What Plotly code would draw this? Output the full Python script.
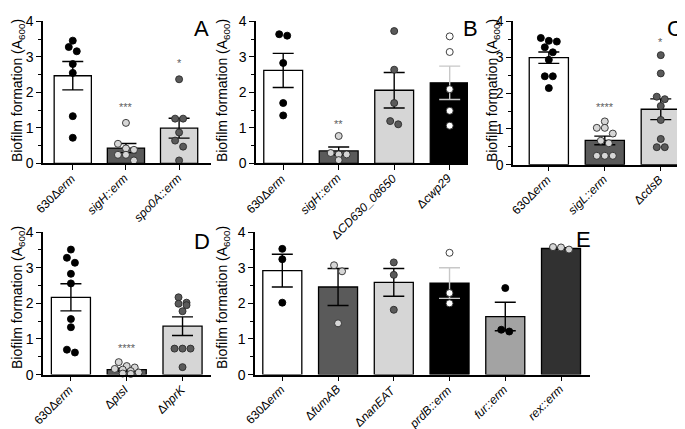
import plotly.graph_objects as go

W, H = 685, 429
FONT = "Liberation Sans, Arial, sans-serif"

# ---------------- data ----------------
A_labels = ["630Δ<i>erm</i>", "<i>sigH::erm</i>", "<i>spo0A::erm</i>"]
A_means = [2.47, 0.43, 0.99]
A_sem = [0.40, 0.13, 0.28]
A_points = [
    [3.46, 3.28, 3.16, 2.80, 2.55, 1.33, 0.72],
    [1.14, 0.55, 0.42, 0.38, 0.24, 0.24, 0.08],
    [2.37, 1.26, 1.26, 0.87, 0.64, 0.47, 0.08],
]
A_stars = ["", "***", "*"]
A_star_y = [None, 1.60, 2.82]

B_labels = ["630Δ<i>erm</i>", "<i>sigH::erm</i>", "Δ<i>CD630_08650</i>", "Δ<i>cwp29</i>"]
B_means = [2.62, 0.35, 2.06, 2.27]
B_sem = [0.48, 0.11, 0.50, 0.47]
B_points = [
    [3.64, 3.60, 2.83, 1.70, 1.35],
    [0.77, 0.29, 0.25, 0.25, 0.09],
    [3.73, 2.64, 1.70, 1.19, 1.10],
    [3.58, 3.14, 2.09, 1.48, 1.06],
]
B_stars = ["", "**", "", ""]
B_star_y = [None, 1.11, None, None]

C_labels = ["630Δ<i>erm</i>", "<i>sigL::erm</i>", "Δ<i>cdsB</i>"]
C_means = [2.99, 0.68, 1.55]
C_sem = [0.16, 0.12, 0.29]
C_points = [
    [3.54, 3.46, 3.44, 3.28, 3.14, 2.93, 2.47, 2.47, 2.14],
    [1.21, 1.03, 1.03, 0.87, 0.67, 0.60, 0.25, 0.25, 0.25],
    [3.06, 2.55, 1.90, 1.83, 1.64, 1.25, 0.72, 0.49, 0.49],
]
C_stars = ["", "****", "*"]
C_star_y = [None, 1.61, 3.42]

D_labels = ["630Δ<i>erm</i>", "Δ<i>ptsI</i>", "Δ<i>hprK</i>"]
D_means = [2.17, 0.14, 1.36]
D_sem = [0.38, 0.04, 0.26]
D_points = [
    [3.51, 3.28, 3.14, 2.83, 2.56, 1.56, 1.33, 0.70, 0.62],
    [0.35, 0.24, 0.20, 0.16, 0.14, 0.10, 0.06, 0.03, 0.02],
    [2.17, 2.02, 1.99, 1.95, 1.78, 0.73, 0.73, 0.73, 0.21],
]
D_stars = ["", "****", ""]
D_star_y = [None, 0.76, None]

E_labels = ["630Δ<i>erm</i>", "Δ<i>fumAB</i>", "Δ<i>nanEAT</i>", "<i>prdB::erm</i>",
            "<i>fur::erm</i>", "<i>rex::erm</i>"]
E_means = [2.92, 2.46, 2.59, 2.57, 1.63, 3.54]
E_sem = [0.46, 0.52, 0.39, 0.43, 0.40, 0.02]
E_points = [
    [3.53, 3.24, 2.02],
    [3.07, 2.90, 1.44],
    [3.15, 2.80, 1.82],
    [3.42, 2.29, 2.00],
    [2.43, 1.26, 1.21],
    [3.58, 3.57, 3.51],
]
E_stars = ["", "", "", "", "", ""]
E_star_y = [None] * 6

Y_TITLE = "Biofilm formation (A<sub>600</sub>)"
Y_TICKS = [0, 1, 2, 3, 4]

# ---------------- styles ----------------
WHITE, DARK, LIGHT, BLACK, MID, VDARK = "#ffffff", "#5a5a5a", "#d6d6d6", "#000000", "#a3a3a3", "#313131"

panels = [
    dict(letter="A", labels=A_labels, means=A_means, sem=A_sem, pts=A_points,
         stars=A_stars, star_y=A_star_y,
         bar_c=[WHITE, DARK, LIGHT], pt_c=[BLACK, LIGHT, DARK], err_c=[BLACK] * 3,
         xpx=(35, 203), ypx=(5.7, 153), xr=(-0.56, 2.6), letter_px=(193, 13), title_px=(10, 78)),
    dict(letter="B", labels=B_labels, means=B_means, sem=B_sem, pts=B_points,
         stars=B_stars, star_y=B_star_y,
         bar_c=[WHITE, DARK, LIGHT, BLACK], pt_c=[BLACK, LIGHT, DARK, WHITE],
         err_c=[BLACK, BLACK, BLACK, "#c8c8c8"],
         xpx=(248, 460), ypx=(5.7, 153), xr=(-0.49, 3.33), letter_px=(462, 13), title_px=(215, 78)),
    dict(letter="C", labels=C_labels, means=C_means, sem=C_sem, pts=C_points,
         stars=C_stars, star_y=C_star_y,
         bar_c=[WHITE, DARK, LIGHT], pt_c=[BLACK, LIGHT, DARK], err_c=[BLACK] * 3,
         xpx=(505, 683), ypx=(5.7, 154.5), xr=(-0.64, 2.54), letter_px=(667, 13), title_px=(485, 78)),
    dict(letter="D", labels=D_labels, means=D_means, sem=D_sem, pts=D_points,
         stars=D_stars, star_y=D_star_y,
         bar_c=[WHITE, DARK, LIGHT], pt_c=[BLACK, LIGHT, DARK], err_c=[BLACK] * 3,
         xpx=(35, 203), ypx=(224.5, 372.5), xr=(-0.5, 2.51), letter_px=(194, 234), title_px=(10, 293)),
    dict(letter="E", labels=E_labels, means=E_means, sem=E_sem, pts=E_points,
         stars=E_stars, star_y=E_star_y,
         bar_c=[WHITE, DARK, LIGHT, BLACK, MID, VDARK],
         pt_c=[BLACK, LIGHT, DARK, WHITE, BLACK, LIGHT],
         err_c=[BLACK, BLACK, BLACK, "#c8c8c8", BLACK, BLACK],
         xpx=(247, 582), ypx=(224.5, 372.5), xr=(-0.49, 5.52), letter_px=(575, 232), title_px=(215, 293)),
]

MARKER = 7
SPACING = 8.0
MAX_PER_ROW = 4
LABEL_DX = 5    # px right of tick for rotated label box
LABEL_DY = 8    # px below axis line
LABEL_SIZE = 12


def swarm_offsets(vals, sx, sy):
    """Prism-like row layout: points close in y share a row and are spread symmetrically."""
    order = sorted(range(len(vals)), key=lambda i: -vals[i])
    rows, cur = [], []
    for i in order:
        if cur and ((vals[cur[0]] - vals[i]) * sy >= SPACING * 0.8 or len(cur) >= MAX_PER_ROW):
            rows.append(cur)
            cur = []
        cur.append(i)
    if cur:
        rows.append(cur)
    offs = [0.0] * len(vals)
    for r in rows:
        n = len(r)
        for k, i in enumerate(r):
            offs[i] = (k - (n - 1) / 2) * SPACING / sx
    return offs


fig = go.Figure()
annotations = []
layout_axes = {}

for pi, p in enumerate(panels):
    k = pi + 1
    xa = "x" if k == 1 else f"x{k}"
    ya = "y" if k == 1 else f"y{k}"
    xkey = "xaxis" if k == 1 else f"xaxis{k}"
    ykey = "yaxis" if k == 1 else f"yaxis{k}"
    x0, x1 = p["xpx"]
    yt, yb = p["ypx"]
    sx = (x1 - x0) / (p["xr"][1] - p["xr"][0])
    sy = (yb - yt) / 4.0
    n = len(p["labels"])
    xs = list(range(n))

    fig.add_trace(go.Bar(x=xs, y=p["means"], width=0.7,
                         marker=dict(color=p["bar_c"], line=dict(color="black", width=1.3)),
                         xaxis=xa, yaxis=ya, hoverinfo="skip"))
    for j in range(n):
        fig.add_trace(go.Scatter(x=[j], y=[p["means"][j]], mode="markers",
                                 marker=dict(size=1, color="rgba(0,0,0,0)"),
                                 error_y=dict(type="data", array=[p["sem"][j]], visible=True,
                                              color=p["err_c"][j], thickness=1.4, width=10.5),
                                 xaxis=xa, yaxis=ya, cliponaxis=False, hoverinfo="skip"))
    for j in range(n):
        vals = p["pts"][j]
        offs = swarm_offsets(vals, sx, sy)
        col = p["pt_c"][j]
        edge = "#000000" if col == BLACK else "#2a2a2a"
        fig.add_trace(go.Scatter(x=[j + o for o in offs], y=vals, mode="markers",
                                 marker=dict(size=MARKER, color=col, line=dict(color=edge, width=0.9)),
                                 xaxis=xa, yaxis=ya, cliponaxis=False))
        if p["stars"][j]:
            annotations.append(dict(x=j, y=p["star_y"][j], xref=xa, yref=ya, text=p["stars"][j],
                                    showarrow=False, font=dict(size=11, color="#606060", family=FONT),
                                    xanchor="center", yanchor="middle"))
        # rotated category label
        annotations.append(dict(x=j, y=1 - yb / H, xref=xa, yref="paper", text=p["labels"][j],
                                textangle=-45, showarrow=False, xanchor="right", yanchor="top",
                                xshift=LABEL_DX, yshift=-LABEL_DY, borderpad=0, borderwidth=0,
                                font=dict(size=LABEL_SIZE, color="black", family=FONT)))

    layout_axes[xkey] = dict(domain=[x0 / W, x1 / W], range=list(p["xr"]), anchor=ya,
                             tickmode="array", tickvals=xs, showticklabels=False,
                             ticks="outside", ticklen=5, tickwidth=1.3, tickcolor="black",
                             showline=True, linecolor="black", linewidth=1.5,
                             showgrid=False, zeroline=False)
    layout_axes[ykey] = dict(domain=[1 - yb / H, 1 - yt / H], range=[0, 4], anchor=xa,
                             tickmode="array", tickvals=Y_TICKS,
                             ticks="outside", ticklen=5, tickwidth=1.3, tickcolor="black",
                             minor=dict(tickmode="linear", tick0=0, dtick=0.5, ticks="outside",
                                        ticklen=3, tickwidth=1.2, tickcolor="black", showgrid=False),
                             showline=True, linecolor="black", linewidth=1.5,
                             showgrid=False, zeroline=False,
                             tickfont=dict(size=14, color="black", family=FONT))

    annotations.append(dict(x=p["letter_px"][0] / W, y=1 - p["letter_px"][1] / H, xref="paper", yref="paper",
                            text=p["letter"], showarrow=False, xanchor="center", yanchor="middle",
                            font=dict(size=22, color="black", family=FONT)))
    annotations.append(dict(x=p["title_px"][0] / W, y=1 - p["title_px"][1] / H, xref="paper", yref="paper",
                            text=Y_TITLE, textangle=-90, showarrow=False, xanchor="center", yanchor="middle",
                            font=dict(size=14, color="black", family=FONT)))

fig.update_layout(width=W, height=H, margin=dict(l=0, r=0, t=0, b=0),
                  paper_bgcolor="white", plot_bgcolor="white", showlegend=False,
                  barmode="overlay", annotations=annotations, font=dict(family=FONT),
                  **layout_axes)

fig.write_html("out.html")
